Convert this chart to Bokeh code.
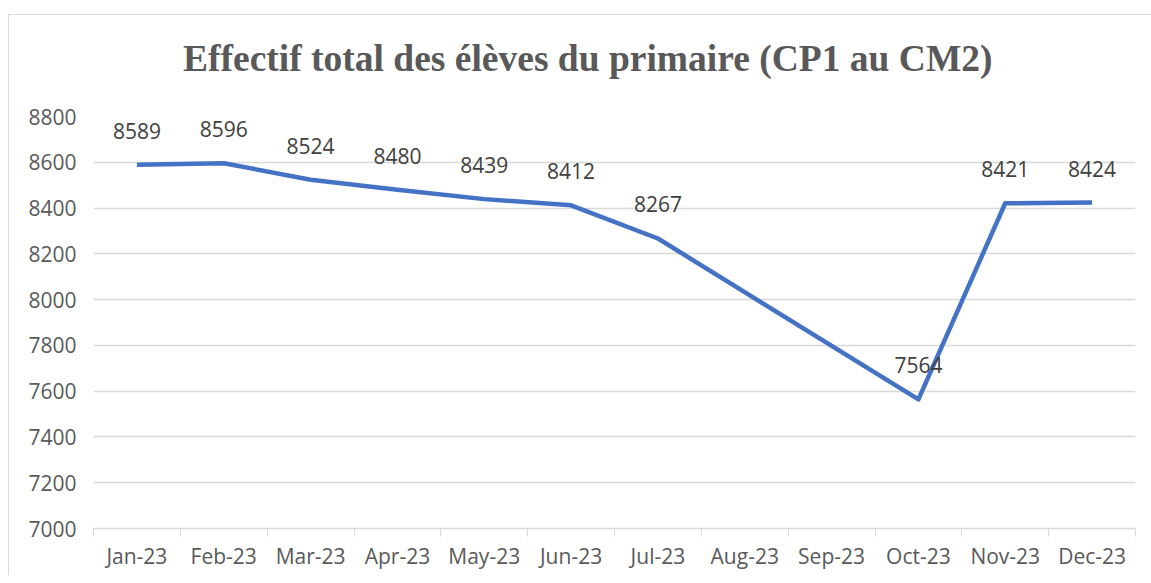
from bokeh.plotting import figure
from bokeh.models import Range1d, FixedTicker, Div
from bokeh.layouts import column
from bokeh.core.properties import value
from bokeh.embed import file_html
from bokeh.resources import INLINE

months = ["Jan-23", "Feb-23", "Mar-23", "Apr-23", "May-23", "Jun-23",
          "Jul-23", "Aug-23", "Sep-23", "Oct-23", "Nov-23", "Dec-23"]
students = [8589, 8596, 8524, 8480, 8439, 8412, 8267, None, None, 7564, 8421, 8424]
y_ticks = [7000, 7200, 7400, 7600, 7800, 8000, 8200, 8400, 8600, 8800]
title_text = "Effectif total des élèves du primaire (CP1 au CM2)"

n = len(months)
xs = [i + 0.5 for i, v in enumerate(students) if v is not None]
ys = [v for v in students if v is not None]
labels = [str(v) for v in ys]

GRID = "#d9d9d9"
TXT = "#595959"
FONT = "Open Sans"

head = Div(text=('<div style="margin:17px 0 0 169px; font-family:\'Liberation Serif\'; '
                 'font-size:37.5px; font-weight:bold; line-height:44px; color:%s; '
                 'white-space:nowrap;">%s</div>') % (TXT, title_text),
           width=1134, height=71)

p = figure(frame_width=1042, frame_height=412,
           x_range=Range1d(0, n), y_range=Range1d(y_ticks[0], y_ticks[-1]),
           output_backend="svg", toolbar_location=None,
           min_border_left=84, min_border_right=8, min_border_top=20, min_border_bottom=47)
p.outline_line_color = None
p.background_fill_color = "white"
p.border_fill_color = "white"

# x axis: labels at centers, tick marks at category boundaries
xt = FixedTicker(ticks=[i + 0.5 for i in range(n)], minor_ticks=list(range(n + 1)))
p.xaxis.ticker = xt
p.xaxis.major_label_overrides = {i + 0.5: m for i, m in enumerate(months)}
p.xaxis.major_tick_line_color = None
p.xaxis.major_tick_out = 0
p.xaxis.major_tick_in = 0
p.xaxis.minor_tick_line_color = GRID
p.xaxis.minor_tick_out = 8
p.xaxis.minor_tick_in = 0
p.xaxis.axis_line_color = GRID
p.xaxis.axis_line_width = 1.5
p.xaxis.major_label_text_font = FONT
p.xaxis.major_label_text_font_size = "21px"
p.xaxis.major_label_text_color = TXT
p.xaxis.major_label_standoff = 5

p.yaxis.ticker = FixedTicker(ticks=y_ticks)
p.yaxis.axis_line_color = None
p.yaxis.major_tick_line_color = None
p.yaxis.minor_tick_line_color = None
p.yaxis.major_tick_out = 0
p.yaxis.major_label_text_font = FONT
p.yaxis.major_label_text_font_size = "21px"
p.yaxis.major_label_text_color = TXT
p.yaxis.major_label_standoff = 17

p.xgrid.grid_line_color = None
p.ygrid.ticker = FixedTicker(ticks=y_ticks)
p.ygrid.grid_line_color = GRID
p.ygrid.grid_line_width = 1.5

p.line(xs, ys, line_color="#4472C4", line_width=4.5, line_join="round")
p.text(x=xs, y=ys, text=labels, text_align="center", text_baseline="middle",
       y_offset=-34, text_font=value(FONT), text_font_size="21px", text_color="#404040")

layout = column(head, p, spacing=0)
layout.styles = {"border-top": "1px solid #d9d9d9", "border-left": "1px solid #d9d9d9",
                 "margin-top": "14px", "margin-left": "8px", "background": "white"}

open("out.html", "w").write(file_html(layout, INLINE))
